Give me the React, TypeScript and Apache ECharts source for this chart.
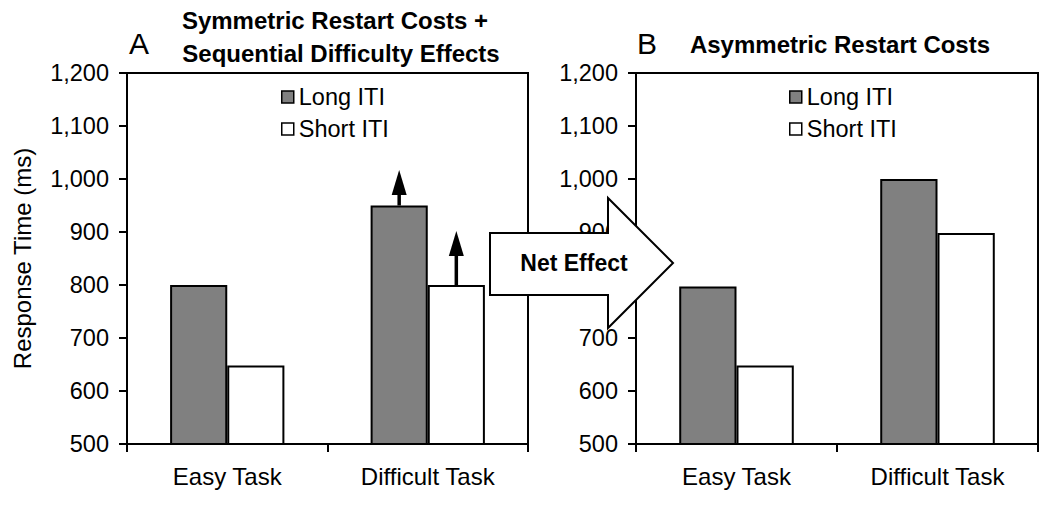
import React, { useEffect, useRef } from 'react';
import * as echarts from 'echarts';

const categories = ['Easy Task', 'Difficult Task'];
const seriesNames = ['Long ITI', 'Short ITI'];
const panelALong = [800, 950];
const panelAShort = [648, 800];
const panelBLong = [797, 1000];
const panelBShort = [648, 898];
// upward arrows in panel A: category index, bar side (-1 long, +1 short), base value, tip value
const arrowCategoryIndex = [1, 1];
const arrowSide = [-1, 1];
const arrowBase = [950, 800];
const arrowTip = [1017, 902];
const yMin = 500;
const yMax = 1200;
const yStep = 100;
const titleA = ['Symmetric Restart Costs +', 'Sequential Difficulty Effects'];
const titleB = 'Asymmetric Restart Costs';
const netEffectLabel = 'Net Effect';
const yAxisName = 'Response Time (ms)';

const FONT = "'Liberation Sans', Arial, Helvetica, sans-serif";
const CAT_GAP = 0.43;

function fmt(v: number) {
  return v.toLocaleString('en-US');
}

export default function App() {
  const ref = useRef<HTMLDivElement>(null);
  useEffect(() => {
    if (!ref.current) return;
    const chart = echarts.init(ref.current, undefined, { renderer: 'svg' });
    const grids = [
      { left: 127, top: 73, width: 401, height: 371 },
      { left: 636, top: 73, width: 402, height: 371 },
    ];
    const axisLineStyle = { color: '#000', width: 2 };
    const option: any = {
      animation: false,
      backgroundColor: '#fff',
      grid: grids.map((g) => ({
        ...g,
        show: true,
        borderColor: '#000',
        borderWidth: 2,
        backgroundColor: 'transparent',
      })),
      xAxis: [0, 1].map((i) => ({
        type: 'category',
        gridIndex: i,
        data: categories,
        axisLine: { show: true, lineStyle: axisLineStyle },
        axisTick: { show: true, length: 8, lineStyle: axisLineStyle },
        axisLabel: { color: '#000', fontSize: 24, fontFamily: FONT, margin: 20 },
        splitLine: { show: false },
      })),
      yAxis: [0, 1].map((i) => ({
        type: 'value',
        gridIndex: i,
        min: yMin,
        max: yMax,
        interval: yStep,
        name: i === 0 ? yAxisName : '',
        nameLocation: 'middle',
        nameGap: 93,
        nameTextStyle: { color: '#000', fontSize: 24, fontFamily: FONT },
        axisLine: { show: true, lineStyle: axisLineStyle },
        axisTick: { show: true, length: 8, lineStyle: axisLineStyle },
        axisLabel: { color: '#000', fontSize: 23.5, fontFamily: FONT, margin: 18, formatter: fmt },
        splitLine: { show: false },
      })),
      legend: [276, 784].map((left) => ({
        data: seriesNames,
        orient: 'vertical',
        left,
        top: 80,
        itemWidth: 12,
        itemHeight: 12,
        itemGap: 8,
        icon: 'rect',
        selectedMode: false,
        itemStyle: { borderColor: '#000', borderWidth: 1.5 },
        textStyle: { color: '#000', fontSize: 23.5, fontFamily: FONT },
      })),
      series: [
        ...[
          [panelALong, panelAShort],
          [panelBLong, panelBShort],
        ].flatMap((pair, gi) =>
          pair.map((vals, si) => ({
            type: 'bar',
            name: seriesNames[si],
            xAxisIndex: gi,
            yAxisIndex: gi,
            data: vals,
            barCategoryGap: `${CAT_GAP * 100}%`,
            barGap: '0%',
            itemStyle: {
              color: si === 0 ? '#808080' : '#ffffff',
              borderColor: '#000',
              borderWidth: 2,
            },
          }))
        ),
        {
          type: 'custom',
          xAxisIndex: 0,
          yAxisIndex: 0,
          z: 10,
          encode: { x: 0, y: [1, 2] },
          data: arrowCategoryIndex.map((c, i) => [c, arrowBase[i], arrowTip[i], arrowSide[i]]),
          renderItem: (params: any, api: any) => {
            const cat = api.value(0);
            const base = api.coord([cat, api.value(1)]);
            const tip = api.coord([cat, api.value(2)]);
            const side = api.value(3);
            const band = api.size([1, 0])[0];
            const barW = (band * (1 - CAT_GAP)) / 2;
            const x = base[0] + (side * barW) / 2;
            const headLen = 25;
            const headHalf = 7.5;
            return {
              type: 'group',
              children: [
                {
                  type: 'line',
                  shape: { x1: x, y1: base[1], x2: x, y2: tip[1] + headLen - 1 },
                  style: { stroke: '#000', lineWidth: 3.5 },
                },
                {
                  type: 'polygon',
                  shape: {
                    points: [
                      [x, tip[1]],
                      [x - headHalf, tip[1] + headLen],
                      [x + headHalf, tip[1] + headLen],
                    ],
                  },
                  style: { fill: '#000' },
                },
              ],
            };
          },
        },
      ],
      graphic: [
        {
          type: 'polygon',
          z: 100,
          shape: {
            points: [
              [490, 233],
              [608, 233],
              [608, 198],
              [673, 263],
              [608, 328],
              [608, 295],
              [490, 295],
            ],
          },
          style: { fill: '#fff', stroke: '#000', lineWidth: 2 },
        },
        {
          type: 'text',
          z: 101,
          style: {
            text: netEffectLabel,
            x: 574,
            y: 263,
            fill: '#000',
            font: `bold 23px ${FONT}`,
            textAlign: 'center',
            textVerticalAlign: 'middle',
          },
        },
        {
          type: 'text',
          style: {
            text: 'A',
            x: 129,
            y: 43,
            fill: '#000',
            font: `30px ${FONT}`,
            textAlign: 'left',
            textVerticalAlign: 'middle',
          },
        },
        {
          type: 'text',
          style: {
            text: 'B',
            x: 637,
            y: 43,
            fill: '#000',
            font: `30px ${FONT}`,
            textAlign: 'left',
            textVerticalAlign: 'middle',
          },
        },
        {
          type: 'text',
          style: {
            text: titleA[0],
            x: 335,
            y: 20,
            fill: '#000',
            font: `bold 24px ${FONT}`,
            textAlign: 'center',
            textVerticalAlign: 'middle',
          },
        },
        {
          type: 'text',
          style: {
            text: titleA[1],
            x: 341,
            y: 53,
            fill: '#000',
            font: `bold 24px ${FONT}`,
            textAlign: 'center',
            textVerticalAlign: 'middle',
          },
        },
        {
          type: 'text',
          style: {
            text: titleB,
            x: 840,
            y: 44,
            fill: '#000',
            font: `bold 24px ${FONT}`,
            textAlign: 'center',
            textVerticalAlign: 'middle',
          },
        },
      ],
    };
    chart.setOption(option);
    return () => chart.dispose();
  }, []);
  return (
    <div
      ref={ref}
      style={{ position: 'fixed', left: 0, top: 0, width: 1050, height: 506, background: '#fff' }}
    />
  );
}
